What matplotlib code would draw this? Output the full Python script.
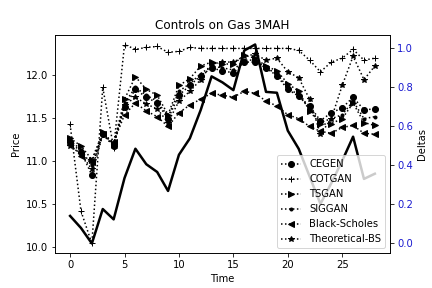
import matplotlib
matplotlib.use("Agg")
import matplotlib.pyplot as plt
import numpy as np

time = list(range(29))
price = [10.36, 10.22, 10.04, 10.44, 10.32, 10.80, 11.14, 10.96, 10.87, 10.65,
         11.07, 11.26, 11.59, 11.98, 11.91, 11.82, 12.28, 12.35, 11.80, 11.79,
         11.35, 11.14, 10.82, 10.50, 10.74, 11.00, 11.28, 10.79, 10.85]

cegen = [0.52, 0.47, 0.35, 0.56, 0.50, 0.70, 0.79, 0.75, 0.72, 0.64,
         0.76, 0.81, 0.86, 0.90, 0.885, 0.875, 0.93, 0.93, 0.90, 0.86,
         0.79, 0.755, 0.705, 0.63, 0.67, 0.695, 0.75, 0.685, 0.69]
cotgan = [0.61, 0.166, 0.0, 0.80, 0.49, 1.02, 0.995, 1.005, 1.01, 0.98,
          0.985, 1.005, 1.0, 1.0, 1.0, 1.0, 1.0, 1.0, 1.0, 1.0,
          1.0, 0.99, 0.94, 0.88, 0.93, 0.95, 0.995, 0.94, 0.95]
tsgan = [0.54, 0.50, 0.43, 0.57, 0.51, 0.74, 0.855, 0.79, 0.76, 0.66,
         0.81, 0.845, 0.91, 0.93, 0.92, 0.92, 0.965, 0.95, 0.91, 0.885,
         0.82, 0.78, 0.68, 0.61, 0.615, 0.64, 0.72, 0.62, 0.605]
siggan = [0.53, 0.48, 0.40, 0.56, 0.50, 0.72, 0.80, 0.76, 0.73, 0.65,
          0.78, 0.82, 0.87, 0.91, 0.90, 0.89, 0.94, 0.94, 0.90, 0.87,
          0.80, 0.76, 0.69, 0.62, 0.64, 0.66, 0.73, 0.64, 0.65]
black_scholes = [0.51, 0.45, 0.42, 0.56, 0.52, 0.66, 0.72, 0.68, 0.65, 0.60,
                 0.67, 0.71, 0.74, 0.77, 0.76, 0.75, 0.78, 0.77, 0.73, 0.705,
                 0.66, 0.64, 0.60, 0.575, 0.565, 0.595, 0.605, 0.565, 0.56]
theoretical_bs = [0.50, 0.46, 0.38, 0.56, 0.51, 0.71, 0.75, 0.715, 0.69, 0.62,
                  0.73, 0.78, 0.84, 0.92, 0.93, 0.93, 0.96, 0.97, 0.94, 0.95,
                  0.88, 0.85, 0.74, 0.56, 0.64, 0.81, 0.96, 0.84, 0.91]

series = [("CEGEN", cegen, "o"), ("COTGAN", cotgan, "+"), ("TSGAN", tsgan, ">"),
          ("SIGGAN", siggan, "."), ("Black-Scholes", black_scholes, "<"),
          ("Theoretical-BS", theoretical_bs, "*")]

fig, ax = plt.subplots(figsize=(6, 4), dpi=72)
ax.plot(time, price, color="black", linewidth=2.5)
ax.set_xlabel("Time")
ax.set_ylabel("Price")
ax.set_title("Controls on Gas 3MAH")

ax2 = ax.twinx()
for name, vals, m in series:
    ax2.plot(time, vals, linestyle=":", color="black", marker=m, label=name)
ax2.set_ylabel("Deltas")
ax2.tick_params(axis="y", labelcolor="#1a1ad0")
ax2.legend(loc="lower right")

fig.subplots_adjust(left=0.127, right=0.903, top=0.88, bottom=0.12)
fig.savefig("out.png", dpi=72)
